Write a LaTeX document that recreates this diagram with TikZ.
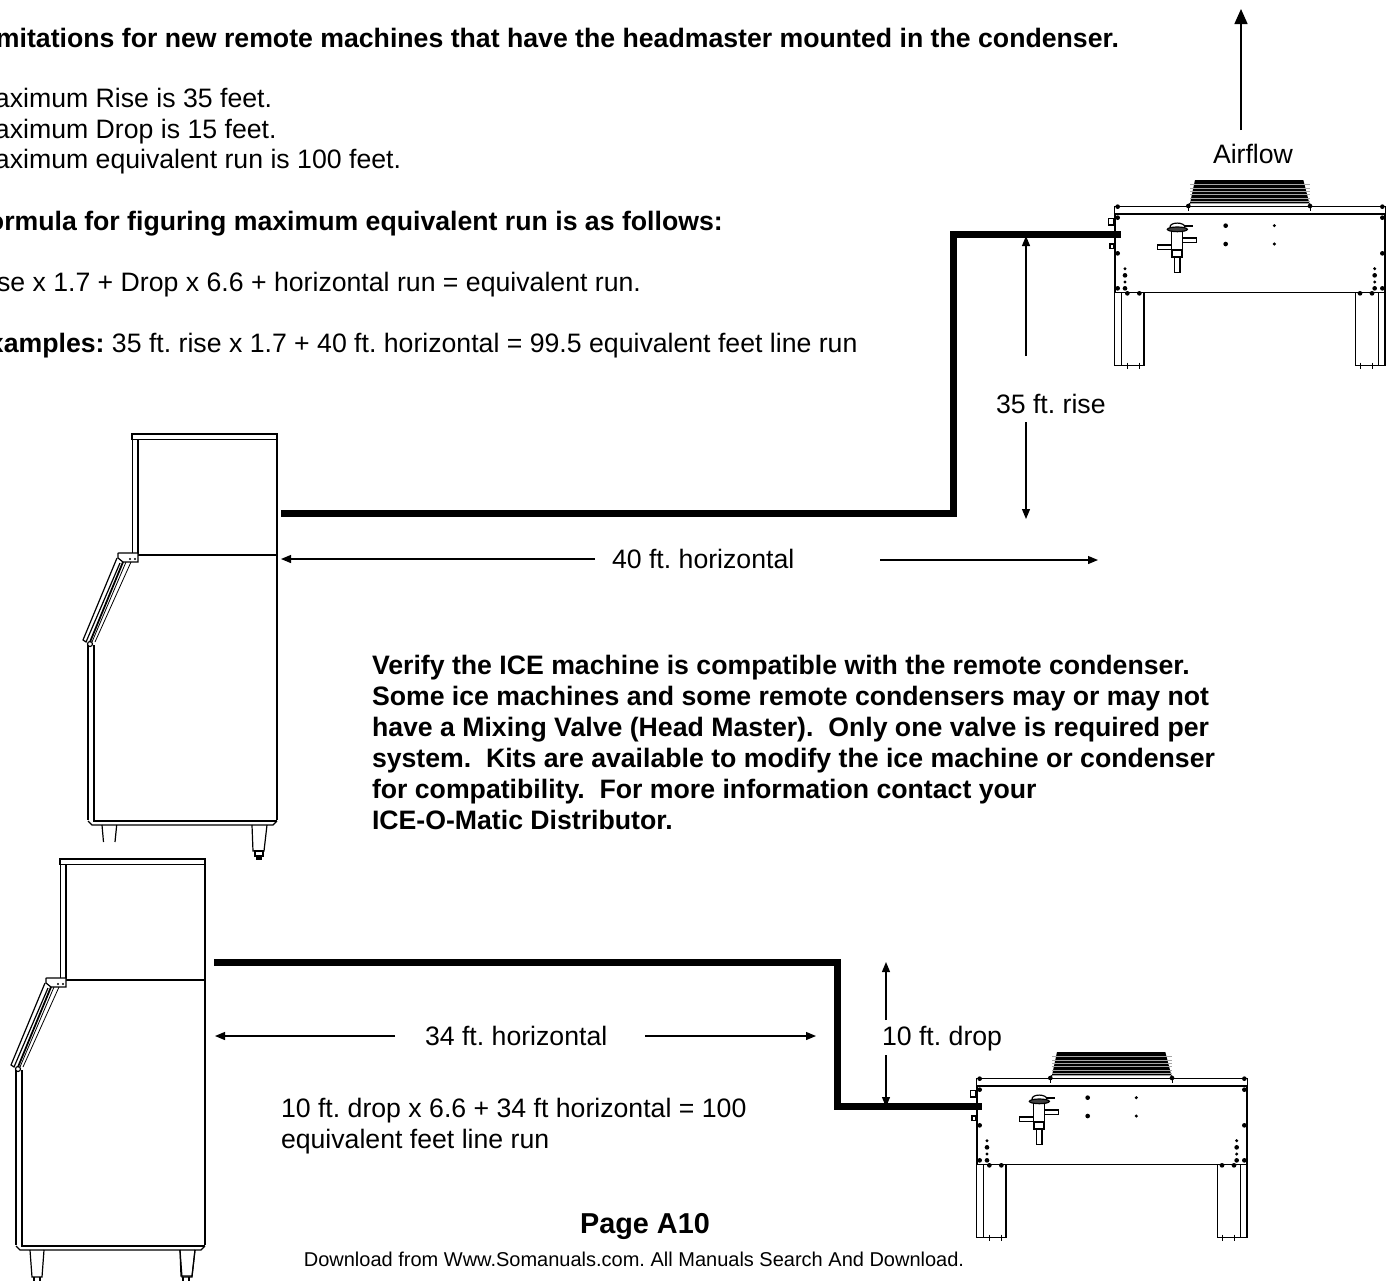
\documentclass[tikz,border=0pt]{standalone}
\usepackage{fontspec}
\setmainfont{Liberation Sans}
\usetikzlibrary{arrows.meta}
\AtBeginDocument{\frenchspacing}
\tikzset{
  x=0.5pt,y=-0.5pt,
  body/.style={inner sep=0pt,outer sep=0pt,anchor=base west,align=left,font=\fontsize{13.33}{15.5}\selectfont},
  boldbody/.style={body,font=\fontsize{13.33}{15.5}\selectfont\bfseries},
  pipe/.style={line width=3.5pt,line join=miter},
  dim/.style={line width=0.6pt,-{Triangle[length=5pt,width=4pt]}},
  bigdim/.style={line width=0.75pt,-{Triangle[length=7.5pt,width=6.5pt]}},
  thinl/.style={line width=0.4pt},
  medl/.style={line width=0.6pt},
  heavyl/.style={line width=1.1pt},
}
% ice machine, drawn at the place of the upper one and then shifted
\newcommand{\icemachine}[2]{%
\begin{scope}[shift={(#1,#2)}]
  \draw[medl] (132,434) rectangle (277,439.5);
  \draw[thinl] (132,439.5) -- (132,554);
  \draw[heavyl] (138,439.5) -- (138,555) -- (277,555);
  \draw[medl] (277,439.5) -- (277,820);
  % bracket
  \draw[medl,fill=white] (118,555) .. controls (117,552) and (120,553) .. (122,553) -- (138,553) -- (138,562) -- (123,562) -- (118,558) -- cycle;
  \fill (130,559) circle (1.2) (135,559) circle (1.2);
  % slanted door
  \draw[medl] (117,558) -- (83,640) -- (86,642) -- (120,563);
  \draw[line width=0.9pt] (123,562) -- (90,642);
  \draw[thinl] (126,562) -- (92,642);
  \draw[thinl] (131,562) -- (95,642);
  \draw[medl] (90,644) circle (2.5);
  % lower body
  \draw[medl] (88,645) -- (88,820);
  \draw[heavyl] (94,645) -- (94,821) -- (277,821);
  \draw[medl] (88,821) -- (92,825) -- (273,825) -- (277,821);
  \draw[medl] (252,825) -- (253,851) -- (264,851) -- (267,825);
\end{scope}}
\newcommand{\condenser}[2]{%
\begin{scope}[shift={(#1,#2)}]
\begin{scope}[shift={(1090,170)},x=0.16667pt,y=-0.16667pt]
  % fan
  \fill (315,30) -- (640,30) -- (658,100) -- (300,100) -- cycle;
  \foreach \yy in {44,54,...,94}{\draw[black!35,line width=0.2pt] (300,\yy) -- (660,\yy);}
  \draw[medl] (300,100) -- (293,110) (658,100) -- (663,110);
  \draw[thinl] (295,110) -- (295,122) (662,110) -- (662,122);
  % housing
  \draw[line width=0.7pt] (73,110) rectangle (887,132);
  \draw[line width=0.8pt] (75,132) -- (75,368) -- (885,368) -- (885,132);
  % legs
  \draw[medl] (73,368) -- (73,587) -- (162,587) -- (162,368);
  \draw[medl] (95,368) -- (95,587);
  \draw[medl] (797,368) -- (797,587) -- (885,587) -- (885,368);
  \draw[medl] (865,368) -- (865,587);
  \draw[thinl] (112,578) -- (112,598) (148,578) -- (148,598) (810,578) -- (810,598) (846,578) -- (846,598);
  % tabs
  \draw[medl] (55,145) rectangle (72,165);
  \draw[medl] (60,222) rectangle (72,235);
  % bolts
  \foreach \px/\py in {83/110,295/108,660/108,877/110,83/143,877/143,83/250,877/250,83/355,877/355,105/355,854/355,105/316,854/316,112/370,148/370,810/370,846/370,407/167,407/222}{\fill (\px,\py) circle (7);}
  \foreach \px/\py in {105/296,105/336,854/296,854/336,553/167,553/222}{\fill (\px,\py) circle (5);}
  % valve
  \draw[medl] (240,172) .. controls (238,155) and (285,155) .. (285,172);
  \draw[line width=1pt] (285,168) -- (308,168);
  \draw[medl,fill=black!75] (262,178) ellipse (30 and 7);
  \draw[medl] (245,185) rectangle (277,240);
  \draw[medl,fill=white] (277,204) rectangle (320,218);
  \draw[medl,fill=white] (202,225) rectangle (245,239);
  \draw[heavyl] (245,240) rectangle (277,260);
  \draw[medl] (253,260) rectangle (270,307);
\end{scope}
\end{scope}}
\begin{document}
\begin{tikzpicture}
\useasboundingbox (0,0) rectangle (1394,1281);
\fill[white] (0,0) rectangle (1394,1281);
\clip (0,0) rectangle (1394,1281);

% equipment
\icemachine{0}{0}
\icemachine{-72}{425}
% feet of the upper machine
\draw[medl] (102,825) -- (103.5,842) (116.7,825) -- (115,842);
\draw[medl] (255,851) rectangle (263,856);
\fill (256,856) rectangle (262,860);
% feet of the lower machine
\draw[medl] (30,1250) -- (32,1277) -- (42,1277) -- (44,1250);
\draw[medl] (34,1277) -- (34,1281) (40,1277) -- (40,1281) (183,1277) -- (183,1281) (189,1277) -- (189,1281);
\draw[medl] (180,1250) -- (182,1277) -- (192,1277) -- (195,1250);
\condenser{0}{0}
\condenser{-138}{872}

% coordinates
\coordinate (p1a) at (281,513);
\coordinate (p1b) at (953,513);
\coordinate (p1c) at (953,234);
\coordinate (p1d) at (1121,234);
\coordinate (p2a) at (214,962);
\coordinate (p2b) at (837,962);
\coordinate (p2c) at (837,1106);
\coordinate (p2d) at (982,1106);
\coordinate (airA) at (1241,130);
\coordinate (airB) at (1241,9);
\coordinate (r1a) at (1026,356);
\coordinate (r1b) at (1026,236);
\coordinate (r2a) at (1026,422);
\coordinate (r2b) at (1026,519);
\coordinate (h1a) at (595,559);
\coordinate (h1b) at (281,559);
\coordinate (h2a) at (880,560);
\coordinate (h2b) at (1098,560);
\coordinate (h3a) at (395,1036);
\coordinate (h3b) at (215,1036);
\coordinate (h4a) at (645,1036);
\coordinate (h4b) at (816,1036);
\coordinate (d1a) at (886,1020);
\coordinate (d1b) at (886,962);
\coordinate (d2a) at (886,1055);
\coordinate (d2b) at (886,1107);

% pipes
\draw[pipe] (p1a) -- (p1b) -- (p1c) -- (p1d);
\draw[pipe] (p2a) -- (p2b) -- (p2c) -- (p2d);

% dimension arrows
\draw[bigdim] (airA) -- (airB);
\draw[dim] (r1a) -- (r1b);
\draw[dim] (r2a) -- (r2b);
\draw[dim] (h1a) -- (h1b);
\draw[dim] (h2a) -- (h2b);
\draw[dim] (h3a) -- (h3b);
\draw[dim] (h4a) -- (h4b);
\draw[dim] (d1a) -- (d1b);
\draw[dim] (d2a) -- (d2b);

% text
\node[boldbody] (t1) at (-4,47) {mitations for new remote machines that have the headmaster mounted in the condenser.};
\node[body] (t2) at (-5,107) {aximum Rise is 35 feet.};
\node[body] (t3) at (-5,138) {aximum Drop is 15 feet.};
\node[body] (t4) at (-5,168) {aximum equivalent run is 100 feet.};
\node[boldbody] (t5) at (-12,230) {ormula for figuring maximum equivalent run is as follows:};
\node[body] (t6) at (-3,291) {se x 1.7 + Drop x 6.6 + horizontal run = equivalent run.};
\node[body] (t7) at (-11,352) {\textbf{xamples:} 35 ft. rise x 1.7 + 40 ft. horizontal = 99.5 equivalent feet line run};
\node[body] (l1) at (1213,163) {Airflow};
\node[body] (l2) at (996,413) {35 ft. rise};
\node[body] (l3) at (612,568) {40 ft. horizontal};
\node[boldbody] (note) at (372,829) {Verify the ICE machine is compatible with the remote condenser.\\Some ice machines and some remote condensers may or may not\\have a Mixing Valve (Head Master).\ \ Only one valve is required per\\system.\ \ Kits are available to modify the ice machine or condenser\\for compatibility.\ \ For more information contact your\\ICE-O-Matic Distributor.};
\node[body] (l4) at (425,1045) {34 ft. horizontal};
\node[body] (l5) at (882,1045) {10 ft. drop};
\node[body] (l6) at (281,1148) {10 ft. drop x 6.6 + 34 ft horizontal = 100\\equivalent feet line run};
\node[inner sep=0pt,anchor=base,font=\fontsize{14.4}{16}\selectfont\bfseries] (page) at (645,1233) {Page A10};
\node[inner sep=0pt,anchor=base,font=\fontsize{10}{12}\selectfont] (foot) at (634,1266) {Download from Www.Somanuals.com. All Manuals Search And Download.};
\end{tikzpicture}
\end{document}
